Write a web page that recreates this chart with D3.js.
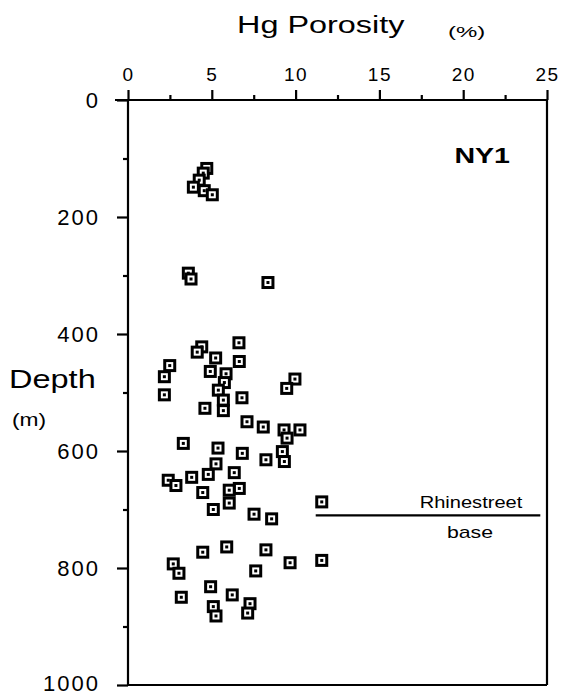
<!DOCTYPE html>
<html>
<head>
<meta charset="utf-8">
<script src="https://cdn.jsdelivr.net/npm/d3@7/dist/d3.min.js"></script>
<style>
  html, body { margin: 0; padding: 0; background: #fff; }
  svg { display: block; }
  text { font-family: "Liberation Sans", Arial, Helvetica, sans-serif; fill: #000; }
</style>
</head>
<body>
<svg id="chart" width="564" height="696"></svg>
<script>
// ---- data ----
const porosity = [4.70, 4.49, 4.25, 3.90, 4.55, 5.03, 3.60, 3.76, 8.35,
  6.62, 4.40, 4.13, 5.23, 6.64, 2.49, 4.91, 5.85, 2.17, 9.96, 9.47, 5.75, 5.39, 2.17, 6.80,
  5.69, 4.59, 5.69, 7.10, 8.07, 9.31, 10.26, 9.49, 3.30, 5.37, 6.82, 9.21, 8.23, 9.33, 5.25,
  6.34, 4.79, 3.80, 2.40, 2.86, 6.64, 6.04, 4.46, 6.04, 5.09, 11.56, 7.52, 8.57,
  4.46, 5.89, 8.23, 9.67, 11.56, 2.70, 3.04, 7.62, 4.93, 6.22, 3.18, 5.09, 5.25, 7.28, 7.14];
const depth = [117, 125, 137, 149, 155, 162, 296, 306, 312,
  415, 422, 431, 441, 447, 454, 464, 468, 473, 477, 493, 483, 496, 504, 509,
  513, 527, 531, 550, 559, 564, 564, 578, 587, 595, 604, 601, 615, 618, 622,
  637, 640, 645, 650, 659, 664, 667, 671, 689, 700, 687, 708, 716,
  773, 764, 769, 791, 787, 793, 809, 805, 832, 846, 850, 866, 882, 861, 877];
const xTicks = [0, 5, 10, 15, 20, 25];
const xMinorTicks = [2.5, 7.5, 12.5, 17.5, 22.5];
const yTicks = [0, 200, 400, 600, 800, 1000];
const yMinorTicks = [100, 300, 500, 700, 900];
const rhinestreetDepth = 710;
const rhinestreetFrom = 11.2;

// ---- scales ----
const x = d3.scaleLinear().domain([0, 25]).range([128, 547]);
const y = d3.scaleLinear().domain([0, 1000]).range([100, 685]);

const svg = d3.select("#chart");

// frame lines
const lines = [
  [x(0) - 13, y(0), x(25), y(0)],       // top axis
  [x(0), y(0), x(0), y(1000)],          // left axis
  [x(0), y(1000), x(25), y(1000)],      // bottom
  [x(25), y(0), x(25), y(1000)]         // right
];
svg.selectAll("line.frame").data(lines).join("line")
  .attr("class", "frame")
  .attr("x1", d => d[0]).attr("y1", d => d[1])
  .attr("x2", d => d[2]).attr("y2", d => d[3])
  .attr("stroke", "#000").attr("stroke-width", 2.2);

// top axis
const gTop = svg.append("g").attr("transform", `translate(0,${y(0)})`)
  .call(d3.axisTop(x).tickValues(xTicks).tickSize(10).tickPadding(9).tickFormat(d3.format("d")));
const gTopMinor = svg.append("g").attr("transform", `translate(0,${y(0)})`)
  .call(d3.axisTop(x).tickValues(xMinorTicks).tickSize(5).tickFormat(""));

// left axis
const gLeft = svg.append("g").attr("transform", `translate(${x(0)},0)`)
  .call(d3.axisLeft(y).tickValues(yTicks).tickSize(11).tickPadding(17).tickFormat(d3.format("d")));
const gLeftMinor = svg.append("g").attr("transform", `translate(${x(0)},0)`)
  .call(d3.axisLeft(y).tickValues(yMinorTicks).tickSize(5).tickFormat(""));

[gTop, gTopMinor, gLeft, gLeftMinor].forEach(g => {
  g.select(".domain").remove();
  g.selectAll(".tick line").attr("stroke", "#000").attr("stroke-width", 2.2);
});
gTop.selectAll(".tick text")
  .style("font-family", '"Liberation Sans", Arial, sans-serif')
  .style("font-size", "19px").attr("fill", "#000").attr("letter-spacing", "1.5px");
gLeft.selectAll(".tick text")
  .style("font-family", '"Liberation Sans", Arial, sans-serif')
  .style("font-size", "22px").attr("fill", "#000").attr("letter-spacing", "2px")
  .attr("dy", d => d === 1000 ? "0.24em" : "0.32em");

// stretched text helper (the reference lettering is horizontally widened)
function label(txt, tx, ty, size, sx, opts = {}) {
  const t = svg.append("text")
    .attr("transform", `translate(${tx},${ty}) scale(${sx},1)`)
    .attr("text-anchor", opts.anchor || "start")
    .style("font-size", size + "px")
    .text(txt);
  if (opts.bold) t.style("font-weight", "bold");
  return t;
}

// titles
label("Hg Porosity", 237, 33, 24, 1.35);
label("(%)", 448, 37, 15, 1.6);
label("Depth", 9, 388, 26, 1.25);
label("(m)", 12, 426, 19, 1.2);
label("NY1", 510, 163, 22, 1.3, { anchor: "end", bold: true });

// Rhinestreet base marker
svg.append("line")
  .attr("x1", x(rhinestreetFrom)).attr("x2", x(24.6))
  .attr("y1", y(rhinestreetDepth)).attr("y2", y(rhinestreetDepth))
  .attr("stroke", "#000").attr("stroke-width", 2.4);
label("Rhinestreet", 471, y(rhinestreetDepth) - 7, 17, 1.18, { anchor: "middle" });
label("base", 470, y(rhinestreetDepth) + 23, 17, 1.25, { anchor: "middle" });

// points
const pts = porosity.map((p, i) => ({ p, d: depth[i] }));
const g = svg.selectAll("g.pt").data(pts).join("g")
  .attr("class", "pt")
  .attr("transform", d => `translate(${x(d.p)},${y(d.d)})`);
g.append("rect").attr("x", -6.5).attr("y", -6.5).attr("width", 13).attr("height", 13).attr("fill", "#000");
g.append("rect").attr("x", -3.5).attr("y", -3.5).attr("width", 7).attr("height", 7).attr("fill", "#fff");
g.append("rect").attr("x", -1.5).attr("y", -1.5).attr("width", 3).attr("height", 3).attr("fill", "#000");
</script>
</body>
</html>
